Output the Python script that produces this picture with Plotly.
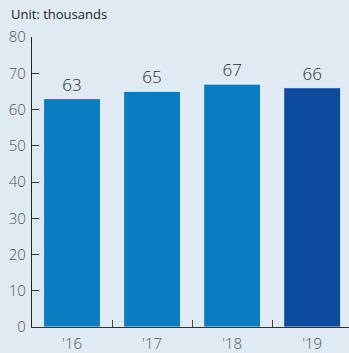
import plotly.graph_objects as go

years = ["'16", "'17", "'18", "'19"]
values = [63, 65, 67, 66]
bar_colors = ["#0a7cc1", "#0a7cc1", "#0a7cc1", "#0b4a9d"]
y_ticks = [0, 10, 20, 30, 40, 50, 60, 70, 80]

label_font = "Open Sans"

fig = go.Figure(
    go.Bar(
        x=years,
        y=values,
        text=[str(v) for v in values],
        textposition="outside",
        textfont=dict(size=17, color="#2a2a2a", family=label_font, weight=300),
        cliponaxis=False,
        marker=dict(color=bar_colors, line=dict(color="rgba(255,255,255,0.75)", width=1)),
    )
)

fig.update_layout(
    width=349,
    height=353,
    margin=dict(l=32, r=0, t=37, b=20),
    paper_bgcolor="#dfeaf2",
    plot_bgcolor="#dfeaf2",
    bargap=0.29,
    showlegend=False,
    font=dict(family=label_font, color="#555555"),
    annotations=[
        dict(
            text="Unit: thousands",
            x=0, xref="paper", xanchor="left", xshift=-23,
            y=1, yref="paper", yanchor="bottom", yshift=12,
            showarrow=False,
            font=dict(size=13, color="#1e1e1e", family=label_font, weight=400),
        )
    ],
)

fig.update_xaxes(
    range=[-0.5, 3.46],
    showline=True,
    linecolor="#333333",
    linewidth=1,
    ticks="inside",
    tickson="boundaries",
    ticklen=7,
    tickcolor="#444444",
    tickfont=dict(size=15, color="#555555", family=label_font, weight=300),
    ticklabelstandoff=3,
    showgrid=False,
    fixedrange=True,
)

fig.update_yaxes(
    range=[0, 80],
    tickvals=y_ticks,
    showline=True,
    linecolor="#222222",
    linewidth=1.3,
    ticks="inside",
    ticklen=7,
    tickcolor="#333333",
    tickfont=dict(size=15, color="#555555", family=label_font, weight=300),
    ticklabelstandoff=2,
    showgrid=False,
    zeroline=False,
)

fig.write_html("out.html")
